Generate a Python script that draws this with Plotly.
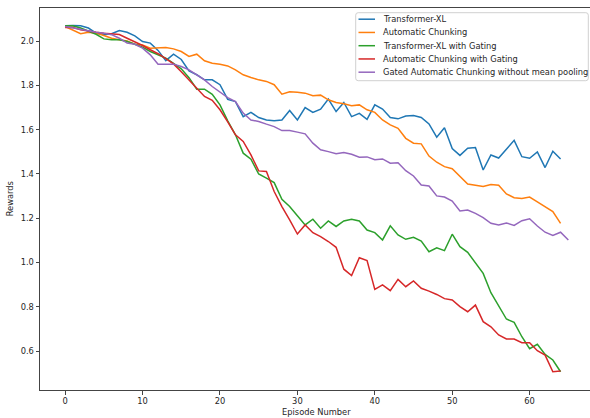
import plotly.graph_objects as go

series_names = [
    "Transformer-XL",
    "Automatic Chunking",
    "Transformer-XL with Gating",
    "Automatic Chunking with Gating",
    "Gated Automatic Chunking without mean pooling",
]
colors = ["#1f77b4", "#ff7f0e", "#2ca02c", "#d62728", "#9467bd"]

transformer_xl = [
    2.069, 2.071, 2.069, 2.059, 2.036, 2.029, 2.033, 2.048, 2.040, 2.024,
    1.998, 1.991, 1.958, 1.912, 1.941, 1.917, 1.865, 1.848, 1.825, 1.825,
    1.803, 1.737, 1.727, 1.659, 1.678, 1.655, 1.644, 1.640, 1.644, 1.687,
    1.644, 1.700, 1.678, 1.693, 1.738, 1.682, 1.723, 1.659, 1.674, 1.647,
    1.712, 1.693, 1.655, 1.649, 1.662, 1.664, 1.655, 1.626, 1.566, 1.609,
    1.515, 1.484, 1.516, 1.519, 1.418, 1.486, 1.472, 1.512, 1.552, 1.478,
    1.471, 1.500, 1.429, 1.503, 1.468,
]
automatic_chunking = [
    2.066, 2.051, 2.033, 2.040, 2.036, 2.025, 2.013, 2.006, 2.001, 1.986,
    1.983, 1.968, 1.971, 1.971, 1.965, 1.953, 1.931, 1.941, 1.911, 1.900,
    1.895, 1.888, 1.870, 1.848, 1.836, 1.825, 1.818, 1.803, 1.760, 1.771,
    1.769, 1.765, 1.753, 1.756, 1.735, 1.723, 1.717, 1.708, 1.712, 1.690,
    1.678, 1.644, 1.622, 1.606, 1.561, 1.539, 1.536, 1.481, 1.453, 1.433,
    1.424, 1.391, 1.355, 1.349, 1.343, 1.352, 1.349, 1.310, 1.293, 1.289,
    1.296, 1.274, 1.253, 1.230, 1.177,
]
transformer_xl_gating = [
    2.069, 2.069, 2.059, 2.044, 2.031, 2.010, 2.006, 2.006, 1.998, 1.986,
    1.973, 1.953, 1.938, 1.923, 1.900, 1.875, 1.835, 1.783, 1.783, 1.760,
    1.712, 1.640, 1.577, 1.494, 1.467, 1.400, 1.381, 1.361, 1.286, 1.253,
    1.211, 1.170, 1.196, 1.155, 1.188, 1.163, 1.188, 1.196, 1.188, 1.147,
    1.135, 1.102, 1.166, 1.125, 1.105, 1.114, 1.097, 1.049, 1.067, 1.054,
    1.128, 1.072, 1.046, 0.999, 0.951, 0.864, 0.801, 0.745, 0.730, 0.665,
    0.611, 0.631, 0.585, 0.560, 0.507,
]
automatic_chunking_gating = [
    2.061, 2.062, 2.051, 2.044, 2.040, 2.036, 2.033, 2.030, 2.013, 1.998,
    1.980, 1.961, 1.943, 1.921, 1.897, 1.862, 1.825, 1.785, 1.750, 1.733,
    1.690, 1.635, 1.577, 1.547, 1.486, 1.414, 1.411, 1.321, 1.253, 1.193,
    1.129, 1.170, 1.135, 1.117, 1.095, 1.069, 0.970, 0.941, 1.022, 1.009,
    0.879, 0.899, 0.873, 0.924, 0.891, 0.917, 0.884, 0.871, 0.856, 0.837,
    0.831, 0.801, 0.778, 0.808, 0.733, 0.710, 0.673, 0.655, 0.655, 0.638,
    0.638, 0.602, 0.582, 0.507, 0.510,
]
gated_no_pooling = [
    2.066, 2.059, 2.051, 2.044, 2.040, 2.036, 2.029, 2.013, 1.991, 1.986,
    1.968, 1.938, 1.896, 1.896, 1.896, 1.885, 1.870, 1.848, 1.825, 1.795,
    1.772, 1.745, 1.727, 1.675, 1.644, 1.637, 1.625, 1.614, 1.596, 1.596,
    1.589, 1.581, 1.539, 1.509, 1.501, 1.491, 1.497, 1.489, 1.476, 1.477,
    1.464, 1.468, 1.449, 1.451, 1.415, 1.391, 1.350, 1.346, 1.301, 1.296,
    1.278, 1.233, 1.237, 1.222, 1.203, 1.177, 1.170, 1.179, 1.168, 1.189,
    1.198, 1.165, 1.137, 1.122, 1.137, 1.102,
]
all_series = [transformer_xl, automatic_chunking, transformer_xl_gating,
              automatic_chunking_gating, gated_no_pooling]

x_ticks = [0, 10, 20, 30, 40, 50, 60]
y_ticks = [0.6, 0.8, 1.0, 1.2, 1.4, 1.6, 1.8, 2.0]
x_title = "Episode Number"
y_title = "Rewards"

W, H = 590, 418
ML, MR, MT, MB = 40, 0, 8, 28
PW, PH = W - ML - MR, H - MT - MB

def px_x(px):
    return (px - ML) / PW

def px_y(py):
    return (H - MB - py) / PH

FONT = "DejaVu Sans"
TXT = "#262626"

fig = go.Figure()
for name, vals, col in zip(series_names, all_series, colors):
    fig.add_trace(go.Scatter(
        x=list(range(len(vals))), y=vals, mode="lines", name=name,
        line=dict(color=col, width=1.5), showlegend=False,
    ))

shapes = []
annotations = []

# legend box with rounded corners (paper coordinates)
bx0, bx1, by0, by1, r = 355.7, 588.3, 12.7, 80.7, 2.5
X0, X1 = px_x(bx0), px_x(bx1)
rx = r / PW
ry = r / PH
Yt, Yb = px_y(by0), px_y(by1)
path = (
    f"M {X0 + rx},{Yt} L {X1 - rx},{Yt} Q {X1},{Yt} {X1},{Yt - ry} "
    f"L {X1},{Yb + ry} Q {X1},{Yb} {X1 - rx},{Yb} "
    f"L {X0 + rx},{Yb} Q {X0},{Yb} {X0},{Yb + ry} "
    f"L {X0},{Yt - ry} Q {X0},{Yt} {X0 + rx},{Yt} Z"
)
shapes.append(dict(type="path", xref="paper", yref="paper", path=path,
                   line=dict(color="#d0d0d0", width=1),
                   fillcolor="rgba(255,255,255,0.8)", layer="above"))
for i, (name, col) in enumerate(zip(series_names, colors)):
    yy = 19.2 + 13.25 * i
    shapes.append(dict(type="line", xref="paper", yref="paper",
                       x0=px_x(358.5), x1=px_x(375), y0=px_y(yy), y1=px_y(yy),
                       line=dict(color=col, width=1.5), layer="above"))
    annotations.append(dict(text=name, xref="paper", yref="paper",
                            x=px_x(381.5), y=px_y(yy), xanchor="left", yanchor="middle",
                            showarrow=False, font=dict(family=FONT, size=8.3, color=TXT)))

annotations.append(dict(text=x_title, xref="paper", yref="paper",
                        x=px_x(316.8), y=px_y(411.5), xanchor="center", yanchor="middle",
                        showarrow=False, font=dict(family=FONT, size=8.3, color=TXT)))
annotations.append(dict(text=y_title, xref="paper", yref="paper",
                        x=px_x(10), y=px_y(199.3), xanchor="center", yanchor="middle",
                        textangle=-90, showarrow=False,
                        font=dict(family=FONT, size=8.3, color=TXT)))

fig.update_layout(
    width=W, height=H,
    margin=dict(l=ML, r=MR, t=MT, b=MB, pad=0),
    paper_bgcolor="white", plot_bgcolor="white",
    showlegend=False,
    shapes=shapes, annotations=annotations,
    font=dict(family=FONT, size=8.3, color=TXT),
)
fig.update_xaxes(
    range=[-3.25, 67.8], tickvals=x_ticks, ticks="outside", ticklen=3.5,
    tickwidth=0.8, tickcolor="#444", showline=True, linecolor="#444", linewidth=1,
    mirror=True, showgrid=False, zeroline=False,
    tickfont=dict(family=FONT, size=8.3, color=TXT),
)
fig.update_yaxes(
    range=[0.4245, 2.1495], tickvals=y_ticks, ticktext=[f"{v:.1f}" for v in y_ticks],
    ticks="outside", ticklen=3.5, tickwidth=0.8, tickcolor="#444",
    showline=True, linecolor="#444", linewidth=1, mirror=False,
    showgrid=False, zeroline=False,
    tickfont=dict(family=FONT, size=8.3, color=TXT),
)

fig.write_html("out.html")
